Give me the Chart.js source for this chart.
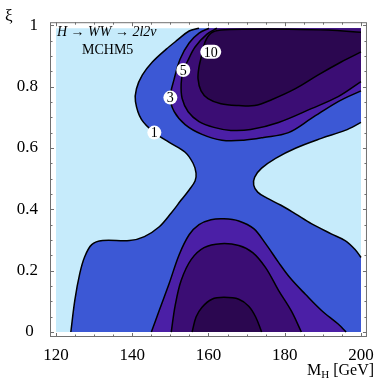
<!DOCTYPE html>
<html><head><meta charset="utf-8">
<style>html,body{margin:0;padding:0;background:#fff;}#wrap{width:382px;height:380px;}</style>
<script src="https://cdn.jsdelivr.net/npm/chart.js@4.4.1/dist/chart.umd.min.js"></script>
</head><body><div id="wrap"><canvas id="c" width="382" height="380"></canvas></div>
<script>
// ---- data (M_H in GeV, xi) ----
const xTicks = [120, 140, 160, 180, 200];
const yTicks = [0, 0.2, 0.4, 0.6, 0.8, 1];
const xRange = [120, 200];
const yRange = [0, 0.99];
const levels = [1, 3, 5, 10];

// level 1 contour, left piece (bottom -> top)
const c1Left = [[123.9,0],[124.95,0.104],[126.25,0.191],[127.56,0.246],[129.38,0.285],[132.25,0.298],[139.28,0.298],[143.19,0.311],[147.1,0.343],[150.23,0.388],[152.83,0.43],[154.92,0.463],[156.48,0.492],[156.74,0.518],[155.96,0.55],[153.88,0.586],[149.71,0.618],[145.8,0.65],[142.41,0.693],[140.85,0.751],[141.11,0.793],[142.67,0.838],[145.28,0.88],[148.93,0.922],[151.79,0.951],[154.92,0.981],[157.52,0.99]];
// level 1 contour, right piece (upper edge point -> lower edge point)
const c1Right = [[200,0.683],[195.83,0.657],[189.58,0.631],[182.8,0.599],[177.59,0.566],[173.94,0.534],[172.12,0.505],[171.86,0.479],[172.9,0.456],[175.24,0.437],[178.89,0.414],[182.8,0.385],[186.97,0.353],[192.18,0.32],[195.83,0.298],[198.44,0.269],[200,0.243]];
// lower contours
const c3Low = [[145.02,0],[147.1,0.071],[149.71,0.159],[152.31,0.252],[154.92,0.317],[157.52,0.35],[160.65,0.366],[164.04,0.369],[167.95,0.362],[171.86,0.337],[174.98,0.288],[178.37,0.227],[181.5,0.175],[185.41,0.123],[189.58,0.071],[194.01,0.026],[196.09,0]];
const c5Low = [[150.23,0],[151.27,0.087],[152.83,0.168],[155.44,0.236],[158.83,0.275],[163.26,0.288],[167.95,0.282],[171.6,0.259],[174.98,0.21],[178.37,0.136],[181.76,0.068],[184.36,0]];
const c10Low = [[155.7,0],[156.74,0.049],[158.31,0.081],[160.91,0.107],[164.04,0.113],[167.95,0.107],[170.55,0.084],[172.38,0.049],[173.94,0]];
// upper contours
const c3Up = [[160.13,0.99],[157.52,0.974],[154.92,0.942],[152.57,0.89],[151.01,0.825],[149.97,0.764],[151.01,0.718],[153.88,0.676],[158.31,0.644],[163.52,0.625],[169.25,0.625],[174.46,0.634],[180.98,0.65],[186.97,0.696],[194.01,0.751],[200,0.786]];
const c5Up = [[162.21,0.99],[159.61,0.971],[156.48,0.929],[154.4,0.88],[153.36,0.854],[152.83,0.809],[153.09,0.761],[154.66,0.718],[157.52,0.686],[161.43,0.667],[165.86,0.657],[171.07,0.66],[178.37,0.683],[186.97,0.728],[194.01,0.767],[200,0.816]];
const c10Up = [[200,0.977],[191.4,0.984],[180.98,0.987],[170.55,0.987],[163.26,0.984],[160.65,0.974],[159.09,0.945],[158.31,0.906],[157.52,0.864],[157.26,0.825],[158.05,0.786],[159.87,0.761],[163.26,0.744],[167.95,0.738],[172.12,0.738],[176.55,0.757],[182.8,0.793],[188.79,0.838],[194.79,0.88],[200,0.913]];
// contour label positions
const labelText = ['10', '5', '3', '1'];
const labelX = [160.6, 153.4, 150.0, 145.8];
const labelY = [0.913, 0.854, 0.764, 0.65];

// ---- styling ----
const colors = { bg:'#c6ebfb', l1:'#3c58d5', l3:'#4b1fa6', l5:'#3b0d74', l10:'#2b0750' };
const TENSION = 0.35;

const P = a => ({x:a[0], y:a[1]});
// build polygon: parts are curves (arrays of points) or corners (single [x,y]); endpoints duplicated for sharp corners
function poly(...parts){
  const out = [];
  parts.forEach(p => {
    if (typeof p[0] === 'number') { out.push(P(p), P(p)); }
    else {
      out.push(P(p[0]));
      p.forEach(q => out.push(P(q)));
      out.push(P(p[p.length-1]));
    }
  });
  return out;
}
const rev = a => a.slice().reverse();

const fillSet = (data, color, order) => ({
  data, showLine:true, fill:'shape', backgroundColor:color, borderWidth:0, borderColor:'rgba(0,0,0,0)',
  pointRadius:0, tension:TENSION, order
});
const lineSet = (arr) => ({
  data: arr.map(P), showLine:true, fill:false, borderColor:'#000', borderWidth:1.5,
  pointRadius:0, tension:TENSION, order:1
});

const bgPoly = poly([xRange[0],yRange[0]],[xRange[1],yRange[0]],[xRange[1],yRange[1]],[xRange[0],yRange[1]]);
const l1Poly = poly([c1Left[0][0],yRange[0]],[xRange[1],yRange[0]], rev(c1Right), [xRange[1],yRange[1]], rev(c1Left));
const l3UpPoly = poly(c3Up, [xRange[1],yRange[1]]);
const l5UpPoly = poly(c5Up, [xRange[1],yRange[1]]);
const l10UpPoly = poly(c10Up);
const l3LowPoly = poly(c3Low);
const l5LowPoly = poly(c5Low);
const l10LowPoly = poly(c10Low);

const datasets = [
  fillSet(bgPoly, colors.bg, 100),
  fillSet(l1Poly, colors.l1, 90),
  fillSet(l3UpPoly, colors.l3, 80),
  fillSet(l3LowPoly, colors.l3, 79),
  fillSet(l5UpPoly, colors.l5, 70),
  fillSet(l5LowPoly, colors.l5, 69),
  fillSet(l10UpPoly, colors.l10, 60),
  fillSet(l10LowPoly, colors.l10, 59),
  lineSet(c1Left), lineSet(c1Right), lineSet(c3Low), lineSet(c5Low), lineSet(c10Low),
  lineSet(c3Up), lineSet(c5Up), lineSet(c10Up)
];

const SERIF = '"Liberation Serif", "DejaVu Serif", serif';

const decor = {
  id:'decor',
  afterDatasetsDraw(chart){
    const {ctx, chartArea:a, scales:{x, y}} = chart;
    ctx.save();
    // contour labels
    ctx.font = '14px ' + SERIF;
    ctx.textAlign = 'center'; ctx.textBaseline = 'middle';
    labelText.forEach((t, i) => {
      const px = x.getPixelForValue(labelX[i]), py = y.getPixelForValue(labelY[i]);
      const w = Math.max(14, ctx.measureText(t).width + 7), h = 14;
      ctx.fillStyle = '#fff';
      ctx.beginPath();
      ctx.roundRect(px - w/2, py - h/2, w, h, 7);
      ctx.fill();
      ctx.fillStyle = '#000';
      ctx.fillText(t, px, py + 1);
    });
    // in-plot texts
    ctx.textAlign = 'left'; ctx.textBaseline = 'alphabetic';
    ctx.font = 'italic 14px ' + SERIF;
    ctx.fillText('H \u2192 WW \u2192 2l2\u03BD', 57, 36);
    ctx.font = '14px ' + SERIF;
    ctx.fillText('MCHM5', 82, 54);
    // frame
    ctx.strokeStyle = '#707070'; ctx.lineWidth = 1;
    ctx.strokeRect(a.left + 0.5, a.top + 0.5, a.width - 1, a.height - 1);
    // ticks (inward, all four sides)
    ctx.beginPath();
    for (let v = 120; v <= 200; v += 5) {
      const len = (v % 20 === 0) ? 4 : 2.5;
      const px = Math.round(x.getPixelForValue(v)) + 0.5;
      ctx.moveTo(px, a.bottom); ctx.lineTo(px, a.bottom - len);
      ctx.moveTo(px, a.top); ctx.lineTo(px, a.top + len);
    }
    for (let k = 0; k <= 20; k++) {
      const v = k * 0.05;
      const len = (k % 4 === 0) ? 4 : 2.5;
      const py = Math.round(y.getPixelForValue(v)) + 0.5;
      ctx.moveTo(a.left, py); ctx.lineTo(a.left + len, py);
      ctx.moveTo(a.right, py); ctx.lineTo(a.right - len, py);
    }
    ctx.stroke();
    // axis titles
    ctx.fillStyle = '#000';
    ctx.font = '17px ' + SERIF;
    ctx.fillText('\u03BE', 5, 21);
    ctx.font = '16px ' + SERIF;
    let tx = 307;
    ctx.fillText('M', tx, 375); tx += ctx.measureText('M').width;
    ctx.font = '11px ' + SERIF;
    ctx.fillText('H', tx, 378); tx += ctx.measureText('H').width;
    ctx.font = '16px ' + SERIF;
    ctx.fillText(' [GeV]', tx, 375);
    ctx.restore();
  }
};

new Chart(document.getElementById('c'), {
  type:'scatter',
  data:{ datasets },
  options:{
    responsive:false, animation:false, devicePixelRatio:1,
    layout:{ padding:{ left:0, top:20, right:13, bottom:0 } },
    plugins:{ legend:{display:false}, tooltip:{enabled:false} },
    scales:{
      x:{
        type:'linear', min:118.436, max:201.563,
        afterBuildTicks:s => { s.ticks = xTicks.map(v => ({value:v})); },
        afterFit:s => { s.height = 43; },
        grid:{ display:false, drawTicks:false }, border:{ display:false },
        ticks:{ font:{family:SERIF, size:17}, color:'#000', padding:8, maxRotation:0, autoSkip:false }
      },
      y:{
        type:'linear', min:-0.0162, max:1.0097,
        afterBuildTicks:s => { s.ticks = yTicks.map(v => ({value:v})); },
        afterFit:s => { s.width = 50; },
        grid:{ display:false, drawTicks:false }, border:{ display:false },
        ticks:{ font:{family:SERIF, size:17}, color:'#000', padding:12, autoSkip:false,
          callback:v => v === 0 ? '0 ' : String(v) }
      }
    }
  },
  plugins:[decor]
});
</script></body></html>
